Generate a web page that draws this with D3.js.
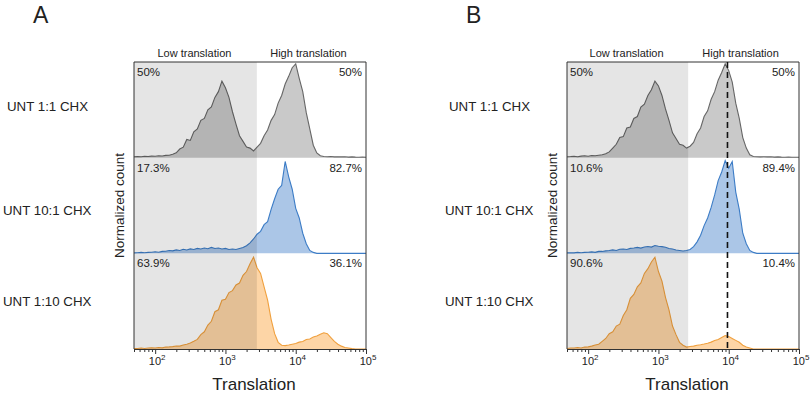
<!DOCTYPE html>
<html>
<head>
<meta charset="utf-8">
<script src="https://cdn.jsdelivr.net/npm/d3@7"></script>
<style>
  body { margin: 0; background: #fff; }
  text { font-family: "Liberation Sans", Arial, sans-serif; fill: #222; }
</style>
</head>
<body>
<div id="chart"></div>
<script>
// rows of each panel, top to bottom
var rowLabels = ["UNT 1:1 CHX", "UNT 10:1 CHX", "UNT 1:10 CHX"];
var rowColors = ["gray", "blue", "orange"];

// histogram bins, log10 of translation signal
var bins = d3.range(1.70, 5.001, 0.05);

// normalized counts, one value per bin
var histA1 = [0.01,0.012,0.01,0.014,0.012,0.016,0.015,0.02,0.018,0.024,0.025,0.035,
  0.05,0.09,0.11,0.19,0.18,0.27,0.30,0.39,0.41,0.50,0.53,0.63,0.69,0.80,0.73,0.63,0.48,0.35,
  0.23,0.17,0.11,0.10,0.07,0.11,0.15,0.23,0.29,0.39,0.45,0.57,0.65,0.77,0.85,0.94,0.98,0.83,
  0.69,0.47,0.30,0.13,0.05,0.02,0.012,0.01,0.012,0.008,0.01,0.008,0.01,0.006,0.008,0.006,0.005,0.006,0.005];
var histA2 = [0.005,0.006,0.01,0.006,0.01,0.012,0.016,0.012,0.02,0.022,0.03,0.026,0.036,0.03,
  0.042,0.035,0.046,0.04,0.052,0.045,0.056,0.048,0.062,0.05,0.056,0.045,0.052,0.04,0.046,0.04,
  0.05,0.06,0.08,0.11,0.15,0.20,0.23,0.30,0.33,0.46,0.57,0.67,0.71,0.96,0.80,0.67,0.47,0.37,
  0.21,0.10,0.03,0.01,0,0,0,0,0,0,0,0,0,0,0,0,0,0,0];
var histA3 = [0.005,0.006,0.01,0.006,0.01,0.012,0.01,0.016,0.012,0.02,0.022,0.025,0.032,0.03,
  0.042,0.05,0.062,0.08,0.10,0.15,0.18,0.25,0.29,0.39,0.41,0.51,0.52,0.59,0.61,0.67,0.69,0.77,
  0.81,0.89,0.96,0.85,0.79,0.65,0.51,0.31,0.16,0.07,0.04,0.035,0.042,0.05,0.058,0.072,0.078,
  0.10,0.105,0.125,0.135,0.155,0.17,0.16,0.12,0.08,0.05,0.03,0.015,0.01,0.004,0,0,0,0];
var histB1 = [0.01,0.012,0.015,0.01,0.016,0.02,0.015,0.022,0.02,0.026,0.03,0.04,
  0.06,0.10,0.14,0.21,0.22,0.31,0.32,0.41,0.43,0.53,0.56,0.65,0.71,0.80,0.75,0.65,0.51,0.39,
  0.26,0.20,0.14,0.13,0.10,0.12,0.16,0.25,0.31,0.43,0.49,0.61,0.69,0.81,0.89,0.98,0.91,0.79,
  0.57,0.41,0.21,0.10,0.03,0.012,0.01,0.008,0.01,0.008,0.01,0.006,0.008,0.006,0.005,0.006,0.005,0.005,0.005];
var histB2 = [0.005,0.006,0.005,0.01,0.006,0.01,0.012,0.015,0.01,0.02,0.02,0.026,0.03,0.036,
  0.03,0.042,0.046,0.04,0.052,0.056,0.062,0.055,0.066,0.072,0.065,0.082,0.074,0.07,0.064,0.05,
  0.046,0.034,0.03,0.024,0.03,0.04,0.07,0.12,0.19,0.29,0.37,0.48,0.61,0.76,0.85,0.97,0.89,0.96,
  0.64,0.46,0.21,0.10,0.03,0.01,0,0,0,0,0,0,0,0,0,0,0,0,0];
var histB3 = [0.005,0.01,0.01,0.016,0.01,0.02,0.022,0.03,0.042,0.05,0.08,0.11,0.16,0.18,
  0.24,0.26,0.35,0.41,0.53,0.57,0.65,0.69,0.79,0.84,0.91,0.96,0.81,0.71,0.54,0.41,0.24,0.15,
  0.07,0.04,0.02,0.026,0.03,0.04,0.045,0.052,0.06,0.072,0.088,0.10,0.12,0.14,0.13,0.11,0.09,
  0.07,0.04,0.02,0.01,0,0,0,0,0,0,0,0,0,0,0,0,0,0];

// gated percentages [low, high] per row
var pctA = [["50%", "50%"], ["17.3%", "82.7%"], ["63.9%", "36.1%"]];
var pctB = [["50%", "50%"], ["10.6%", "89.4%"], ["90.6%", "10.4%"]];

var gateA = 2800;
var gateB = 2650;
var refLineB = 9600;
var xDomain = [50, 1e5];
var majorTicks = [100, 1000, 10000, 100000];

var colors = {
  gray:   {fill: "#c9c9c9", line: "#666"},
  blue:   {fill: "#abc6e7", line: "#3c7cc6"},
  orange: {fill: "#fdd5a6", line: "#f0a03e"}
};

var svg = d3.select("#chart").append("svg")
    .attr("width", 812)
    .attr("height", 396);

drawPanel({letter: "A", left: 134, labelX: 3, hists: [histA1, histA2, histA3], pct: pctA, gate: gateA});
drawPanel({letter: "B", left: 567, labelX: 445, hists: [histB1, histB2, histB3], pct: pctB, gate: gateB, refLine: refLineB});

function drawPanel(p) {
    var top = 62, bottom = 349, width = 232;
    var g = svg.append("g");

    var x = d3.scaleLog().domain(xDomain).range([p.left, p.left + width]);
    var rows = d3.scaleBand().domain(rowLabels).range([top, bottom]);

    // histograms
    rowLabels.forEach(function(lab, i) {
        var y = d3.scaleLinear().domain([0, 1]).range([rows(lab) + rows.bandwidth(), rows(lab)]);
        var pts = bins.map(function(b, j) { return {x: Math.pow(10, b), v: p.hists[i][j]}; });
        var area = d3.area()
            .x(function(d) { return x(d.x); })
            .y0(y(0))
            .y1(function(d) { return y(d.v); });
        var line = d3.line()
            .x(function(d) { return x(d.x); })
            .y(function(d) { return y(d.v); });
        var c = colors[rowColors[i]];
        g.append("path").datum(pts).attr("d", area).attr("fill", c.fill);
        g.append("path").datum(pts).attr("d", line)
            .attr("fill", "none").attr("stroke", c.line).attr("stroke-width", 1.1);
    });

    // low translation shading
    g.append("rect")
        .attr("x", x(xDomain[0]))
        .attr("y", top)
        .attr("width", x(p.gate) - x(xDomain[0]))
        .attr("height", bottom - top)
        .attr("fill", "#000")
        .attr("fill-opacity", 0.1);

    // percentages and row names
    rowLabels.forEach(function(lab, i) {
        g.append("text").attr("x", p.left + 3).attr("y", rows(lab) + 14)
            .style("font-size", "11.5px").text(p.pct[i][0]);
        g.append("text").attr("x", p.left + width - 4).attr("y", rows(lab) + 14)
            .attr("text-anchor", "end").style("font-size", "11.5px").text(p.pct[i][1]);
        g.append("text").attr("x", p.labelX + (i == 0 ? 4 : 0))
            .attr("y", rows(lab) + rows.bandwidth() / 2 + 3 + (i == 1 ? 6 : (i == 0 ? -2 : 2)))
            .style("font-size", "13.3px").text(lab);
    });

    // box
    g.append("path")
        .attr("d", "M" + p.left + "," + bottom + "V" + top + "H" + (p.left + width) + "V" + bottom)
        .attr("fill", "none").attr("stroke", "#333").attr("stroke-width", 1);

    if (p.refLine) {
        g.append("line")
            .attr("x1", x(p.refLine)).attr("x2", x(p.refLine))
            .attr("y1", top).attr("y2", bottom)
            .attr("stroke", "#111").attr("stroke-width", 1.6)
            .attr("stroke-dasharray", "6,4");
    }

    // x axis with log minor ticks
    var allTicks = [];
    [10, 100, 1000, 10000].forEach(function(d) {
        for (var k = 1; k <= 9; k++) {
            var v = d * k;
            if (v >= xDomain[0] && v <= xDomain[1]) allTicks.push(v);
        }
    });
    allTicks.push(1e5);
    var axis = g.append("g")
        .attr("transform", "translate(0," + bottom + ")")
        .call(d3.axisBottom(x).tickValues(allTicks).tickSize(3).tickSizeOuter(0).tickFormat(""));
    axis.select(".domain").attr("stroke", "#333");
    axis.selectAll(".tick line")
        .attr("stroke", "#333")
        .attr("y2", function(d) { return majorTicks.indexOf(d) >= 0 ? 5 : 3; });

    majorTicks.forEach(function(t) {
        var lbl = g.append("text").attr("x", x(t) + 2).attr("y", bottom + 16)
            .attr("text-anchor", "middle").style("font-size", "11px");
        lbl.append("tspan").text("10");
        lbl.append("tspan").attr("dy", -5).style("font-size", "8px").text(Math.round(Math.log10(t)));
    });

    g.append("text").attr("x", p.left + width / 2 + 4).attr("y", 390)
        .attr("text-anchor", "middle").style("font-size", "17px").text("Translation");

    g.append("text")
        .attr("transform", "translate(" + (p.left - 10) + "," + ((top + bottom) / 2) + ") rotate(-90)")
        .attr("text-anchor", "middle").style("font-size", "13.5px").text("Normalized count");

    // gate headers
    g.append("text").attr("x", (x(xDomain[0]) + x(p.gate)) / 2 - 1).attr("y", 57)
        .attr("text-anchor", "middle").style("font-size", "11px").text("Low translation");
    g.append("text").attr("x", (x(p.gate) + x(xDomain[1])) / 2 - 3).attr("y", 57)
        .attr("text-anchor", "middle").style("font-size", "11px").text("High translation");

    g.append("text").attr("x", p.left - 101).attr("y", 23)
        .style("font-size", "23px").text(p.letter);
}
</script>
</body>
</html>
